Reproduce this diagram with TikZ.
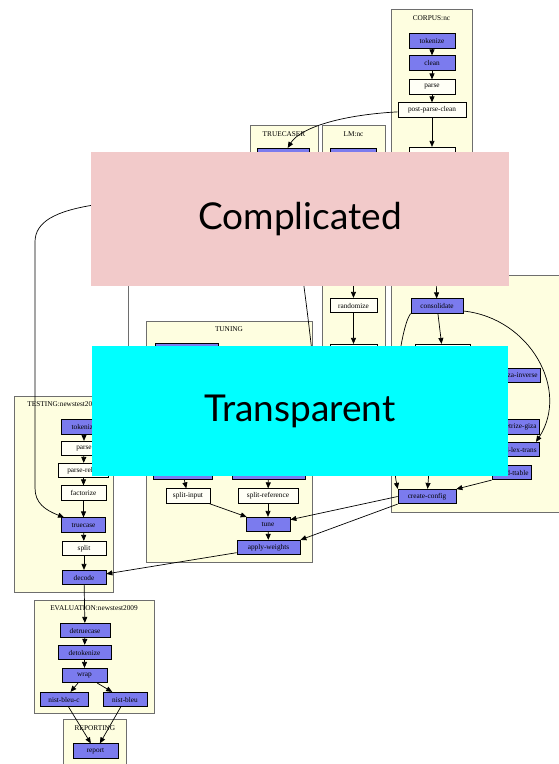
\documentclass[tikz,border=0pt]{standalone}
\usepackage{fontspec}
\setmainfont{Liberation Serif}
\newfontfamily\bigsans{Lato}
\usetikzlibrary{arrows.meta,calc}

\definecolor{clusterfill}{HTML}{FEFEE0}
\definecolor{clusterline}{HTML}{6E6E6E}
\definecolor{stepblue}{HTML}{7B7BEE}
\definecolor{stepwhite}{HTML}{FFFFF6}
\definecolor{coverpink}{HTML}{F2CACA}
\definecolor{covercyan}{HTML}{00FFFF}

\tikzset{
  cluster/.style={draw=clusterline, fill=clusterfill, line width=0.9pt},
  clabel/.style={font=\fontsize{7.3}{8}\selectfont, inner sep=0pt},
  stepbase/.style={draw=black, line width=0.7pt, minimum height=14.5pt,
    inner sep=0pt, inner xsep=3pt, font=\fontsize{7.3}{8}\selectfont},
  bluestep/.style={stepbase, fill=stepblue},
  plainstep/.style={stepbase, fill=stepwhite},
  flow/.style={draw=black, line width=0.7pt, -{Triangle[length=6pt,width=5pt]}},
  bareflow/.style={draw=black, line width=0.7pt},
  coverbox/.style={draw=none, inner sep=0pt},
}

\begin{document}
\begin{tikzpicture}[x=1pt,y=-1pt]
\useasboundingbox (0,0) rectangle (558,764);
\fill[white] (0,0) rectangle (558,764);

% ---- clusters ----
\draw[cluster] (391,9) rectangle (472,262);
\node[clabel] at (431.5,18) {CORPUS:nc};
\draw[cluster] (250,125) rectangle (318,270);
\node[clabel] at (284,134) {TRUECASER};
\draw[cluster] (322,125) rectangle (385,430);
\node[clabel] at (353.5,134) {LM:nc};
\draw[cluster] (391,275) rectangle (562,512);
\draw[cluster] (146,321) rectangle (312,562);
\node[clabel] at (229,329) {TUNING};
\draw[cluster] (14,396) rectangle (113,592);
\node[clabel] at (63.5,404) {TESTING:newstest2009};
\draw[cluster] (34,600) rectangle (154,713);
\node[clabel] at (94,608) {EVALUATION:newstest2009};
\draw[cluster] (63,719) rectangle (126,775);
\node[clabel] at (95,728) {REPORTING};

% ---- corpus ----
\node[bluestep, minimum width=46pt] (c1) at (432,41) {tokenize};
\node[bluestep, minimum width=46pt] (c2) at (432,63) {clean};
\node[plainstep, minimum width=46pt] (c3) at (432,87) {parse};
\node[plainstep, minimum width=68pt] (c4) at (432,110) {post-parse-clean};
\node[plainstep, minimum width=46pt] (c5) at (432,154.5) {};

% ---- truecaser, language model ----
\node[bluestep, minimum width=52pt] (t1) at (283,155.5) {};
\node[bluestep, minimum width=46pt] (l1) at (353,155.5) {};
\node[plainstep, minimum width=47pt] (rand) at (353.5,305.5) {randomize};
\node[plainstep, minimum width=47pt] (l2) at (353.5,351.5) {};

% ---- training ----
\node[bluestep, minimum width=52pt] (cons) at (437,306) {consolidate};
\node[plainstep, minimum width=55pt] (tr2) at (442.5,351.5) {};
\node[bluestep, anchor=east] (inv) at (541,375.5) {run-giza-inverse};
\node[bluestep, anchor=east] (sym) at (540,427) {symmetrize-giza};
\node[bluestep, anchor=east] (lex) at (540,449.5) {build-lex-trans};
\node[bluestep, anchor=east] (ttab) at (532,472.5) {build-ttable};
\node[plainstep, minimum width=50pt] (tr3) at (430,458) {};
\node[bluestep, minimum width=58pt] (cc) at (427,496.5) {create-config};

% ---- tuning ----
\node[bluestep, minimum width=63pt] (tu0) at (186.5,350.5) {};
\node[bluestep, minimum width=59pt] (tua) at (182.5,472) {};
\node[bluestep, minimum width=73pt] (tub) at (268.5,472) {};
\node[plainstep, minimum width=44pt] (si) at (188,496) {split-input};
\node[plainstep, minimum width=60pt] (sr) at (268,496) {split-reference};
\node[bluestep, minimum width=44pt] (tune) at (268,524.5) {tune};
\node[bluestep, minimum width=63pt] (aw) at (268.5,547.5) {apply-weights};

% ---- testing ----
\node[bluestep, minimum width=46pt] (te1) at (84,427) {tokenize};
\node[plainstep, minimum width=46pt] (te2) at (84,448.5) {parse};
\node[plainstep, minimum width=50pt] (te3) at (83.5,470.5) {parse-relax};
\node[plainstep, minimum width=45pt] (te4) at (83.5,493) {factorize};
\node[bluestep, minimum width=44pt] (te5) at (83.5,525) {truecase};
\node[plainstep, minimum width=44pt] (te6) at (84,548.5) {split};
\node[bluestep, minimum width=44pt] (te7) at (84,577.5) {decode};

% ---- evaluation, reporting ----
\node[bluestep, minimum width=50pt] (ev1) at (85,630.5) {detruecase};
\node[bluestep, minimum width=53pt] (ev2) at (84.5,652.5) {detokenize};
\node[bluestep, minimum width=45pt] (ev3) at (84.5,675.5) {wrap};
\node[bluestep, minimum width=48pt] (nbc) at (64,699.5) {nist-bleu-c};
\node[bluestep, minimum width=44pt] (nb) at (125,699.5) {nist-bleu};
\node[bluestep, minimum width=45pt] (rep) at (95.5,751) {report};

% ---- connectors ----
\draw[flow] (c1) -- (c2);
\draw[flow] (c2) -- (c3);
\draw[flow] (c3) -- (c4);
\draw[flow] (c4) -- (c5);
\draw[flow] (c4) .. controls (340,115) and (300,128) .. (t1);
\draw[flow] (t1.west) -- (95,204.8) .. controls (55,211) and (35,222) .. (35,242)
  -- (35,488) .. controls (35,503) and (45,510) .. (te5);
\draw[clusterline, line width=0.9pt] (128,280) -- (128,352);
\draw[bareflow] (t1) .. controls (300,250) and (306,300) .. (312,352);
\draw[flow] (l1) -- (rand);
\draw[flow] (rand) -- (l2);
\draw[flow] (c5) -- (cons);
\draw[flow] (cons) -- (tr2);
\draw[flow] (cons.south west) .. controls (398,330) and (388,440) .. (cc.north west);
\draw[flow] ($(cons.east)+(0,5)$) .. controls (530,318) and (570,390) .. ($(lex.north east)+(-4,0)$);
\draw[flow] (tr3) -- (cc);
\draw[flow] (ttab.south west) -- (cc);
\draw[flow] (cc.west) -- (tune);
\draw[flow] (cc.south west) -- (aw.north east);
\draw[flow] (tua) -- (si);
\draw[flow] (tub) -- (sr);
\draw[flow] (si) -- (tune);
\draw[flow] (sr) -- (tune);
\draw[flow] (tune) -- (aw);
\draw[flow] (aw) -- (te7);
\draw[flow] (te1) -- (te2);
\draw[flow] (te2) -- (te3);
\draw[flow] (te3) -- (te4);
\draw[flow] (te4) -- (te5);
\draw[flow] (te5) -- (te6);
\draw[flow] (te6) -- (te7);
\draw[flow] (te7) -- (ev1);
\draw[flow] (ev1) -- (ev2);
\draw[flow] (ev2) -- (ev3);
\draw[flow] (ev3) -- (nbc);
\draw[flow] (ev3) -- (nb);
\draw[flow] (nbc) -- (rep);
\draw[flow] (nb) -- (rep);

% ---- cover panels ----
\fill[coverpink] (91,152) rectangle (509,286);
\node[coverbox, font=\bigsans\fontsize{37}{40}\selectfont] (pinktext) at (300,219) {Complicated};
\fill[covercyan] (92,346) rectangle (508,476);
\node[coverbox, font=\bigsans\fontsize{37}{40}\selectfont] (cyantext) at (300,411) {Transparent};
\end{tikzpicture}
\end{document}
